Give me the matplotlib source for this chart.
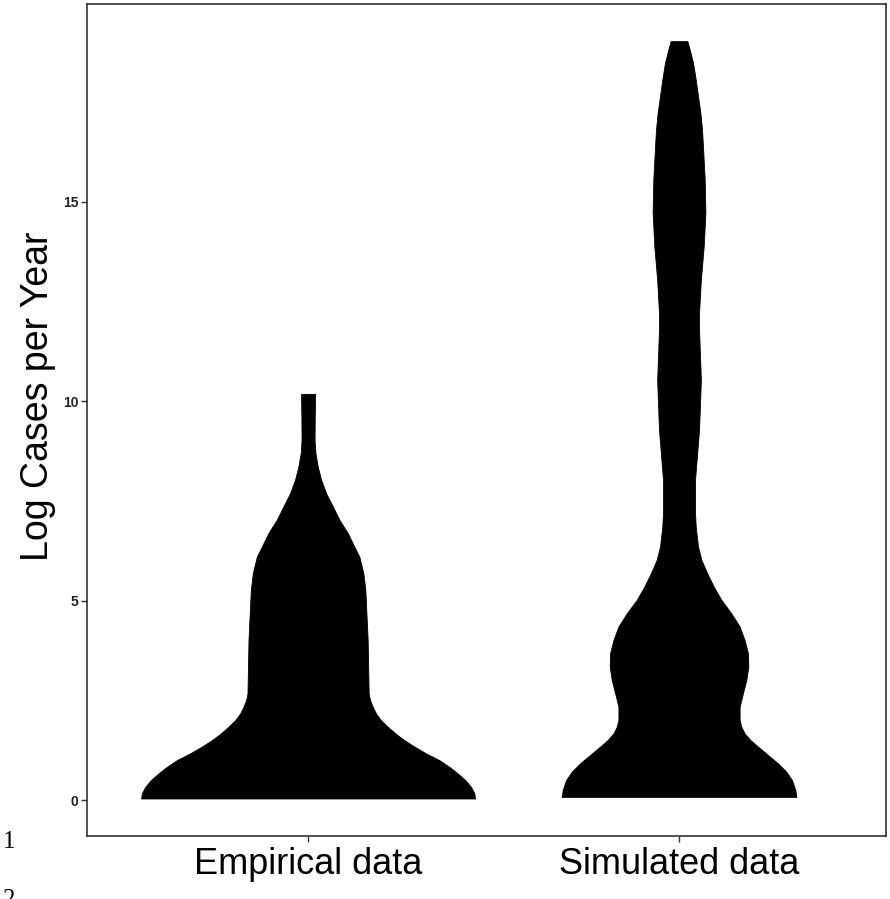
import numpy as np
import matplotlib
matplotlib.use("Agg")
import matplotlib.pyplot as plt

# categories and their x positions
categories = ["Empirical data", "Simulated data"]
positions = [1, 2]

# violin outlines: log cases (y) and relative density
emp_y = [0.04, 0.17, 0.33, 0.50, 0.67, 0.83, 1.00, 1.17, 1.34, 1.50, 1.67, 1.84, 2.00,
         2.17, 2.34, 2.51, 2.67, 4.01, 5.27, 5.69, 6.10, 6.35, 6.69, 7.02, 7.36, 7.69,
         8.03, 8.36, 8.70, 9.03, 9.6, 10.18]
emp_density = [1.0, 0.996, 0.976, 0.942, 0.896, 0.847, 0.787, 0.707, 0.637, 0.577, 0.523,
               0.477, 0.437, 0.407, 0.387, 0.371, 0.363, 0.357, 0.343, 0.331, 0.307, 0.277,
               0.238, 0.188, 0.148, 0.108, 0.078, 0.058, 0.044, 0.039, 0.040, 0.042]

sim_y = [0.08, 0.25, 0.50, 0.71, 0.92, 1.13, 1.34, 1.50, 1.67, 1.84, 2.01, 2.34, 2.68,
         3.01, 3.34, 3.68, 4.01, 4.35, 4.68, 5.02, 5.35, 5.69, 6.02, 6.35, 6.86, 7.20,
         8.03, 9.28, 10.53, 11.79, 12.21, 13.04, 13.88, 14.72, 15.55, 16.18, 16.80,
         17.22, 17.64, 18.06, 18.48, 18.81, 19.02]
sim_density = [0.703, 0.697, 0.677, 0.643, 0.593, 0.533, 0.473, 0.429, 0.393, 0.373, 0.363,
               0.363, 0.383, 0.403, 0.415, 0.413, 0.393, 0.363, 0.313, 0.253, 0.208, 0.168,
               0.134, 0.114, 0.100, 0.096, 0.096, 0.120, 0.131, 0.120, 0.120, 0.131, 0.148,
               0.158, 0.154, 0.146, 0.138, 0.128, 0.114, 0.100, 0.084, 0.064, 0.050]

yticks = [0, 5, 10, 15]
max_half_width = 0.45

fig = plt.figure(figsize=(8.9, 8.99), dpi=100)
ax = fig.add_axes([87 / 890, 63 / 899, 799 / 890, 832 / 899])

for pos, ys, dens in [(positions[0], emp_y, emp_density), (positions[1], sim_y, sim_density)]:
    ys = np.array(ys)
    half = np.array(dens) * max_half_width
    ax.fill_betweenx(ys, pos - half, pos + half, color="black", edgecolor="black", linewidth=0.6)

ax.set_xlim(0.404, 2.558)
ax.set_ylim(-0.9, 19.95)

ax.set_xticks(positions)
ax.set_xticklabels(categories, fontsize=26, family="Liberation Sans")
ax.set_yticks(yticks)
ax.set_yticklabels([str(t) for t in yticks], fontsize=10, fontweight="bold",
                   family="Liberation Sans", color="#222222")
ax.tick_params(axis="both", length=4, width=1, color="#333333")
ax.tick_params(axis="x", pad=4)
ax.tick_params(axis="y", pad=2)
for s in ax.spines.values():
    s.set_color("#333333")
    s.set_linewidth(1.2)

fig.text(38 / 890, 1 - 396 / 899, "Log Cases per Year", rotation=90, ha="center", va="center",
         fontsize=27, family="Liberation Sans")

# stray manuscript line numbers at the left margin
fig.text(3 / 890, 1 - 848 / 899, "1", fontsize=18, family="Liberation Serif", va="baseline")
fig.text(3 / 890, 1 - 906 / 899, "2", fontsize=18, family="Liberation Serif", va="baseline")

fig.savefig("out.png", dpi=100, facecolor="white")
